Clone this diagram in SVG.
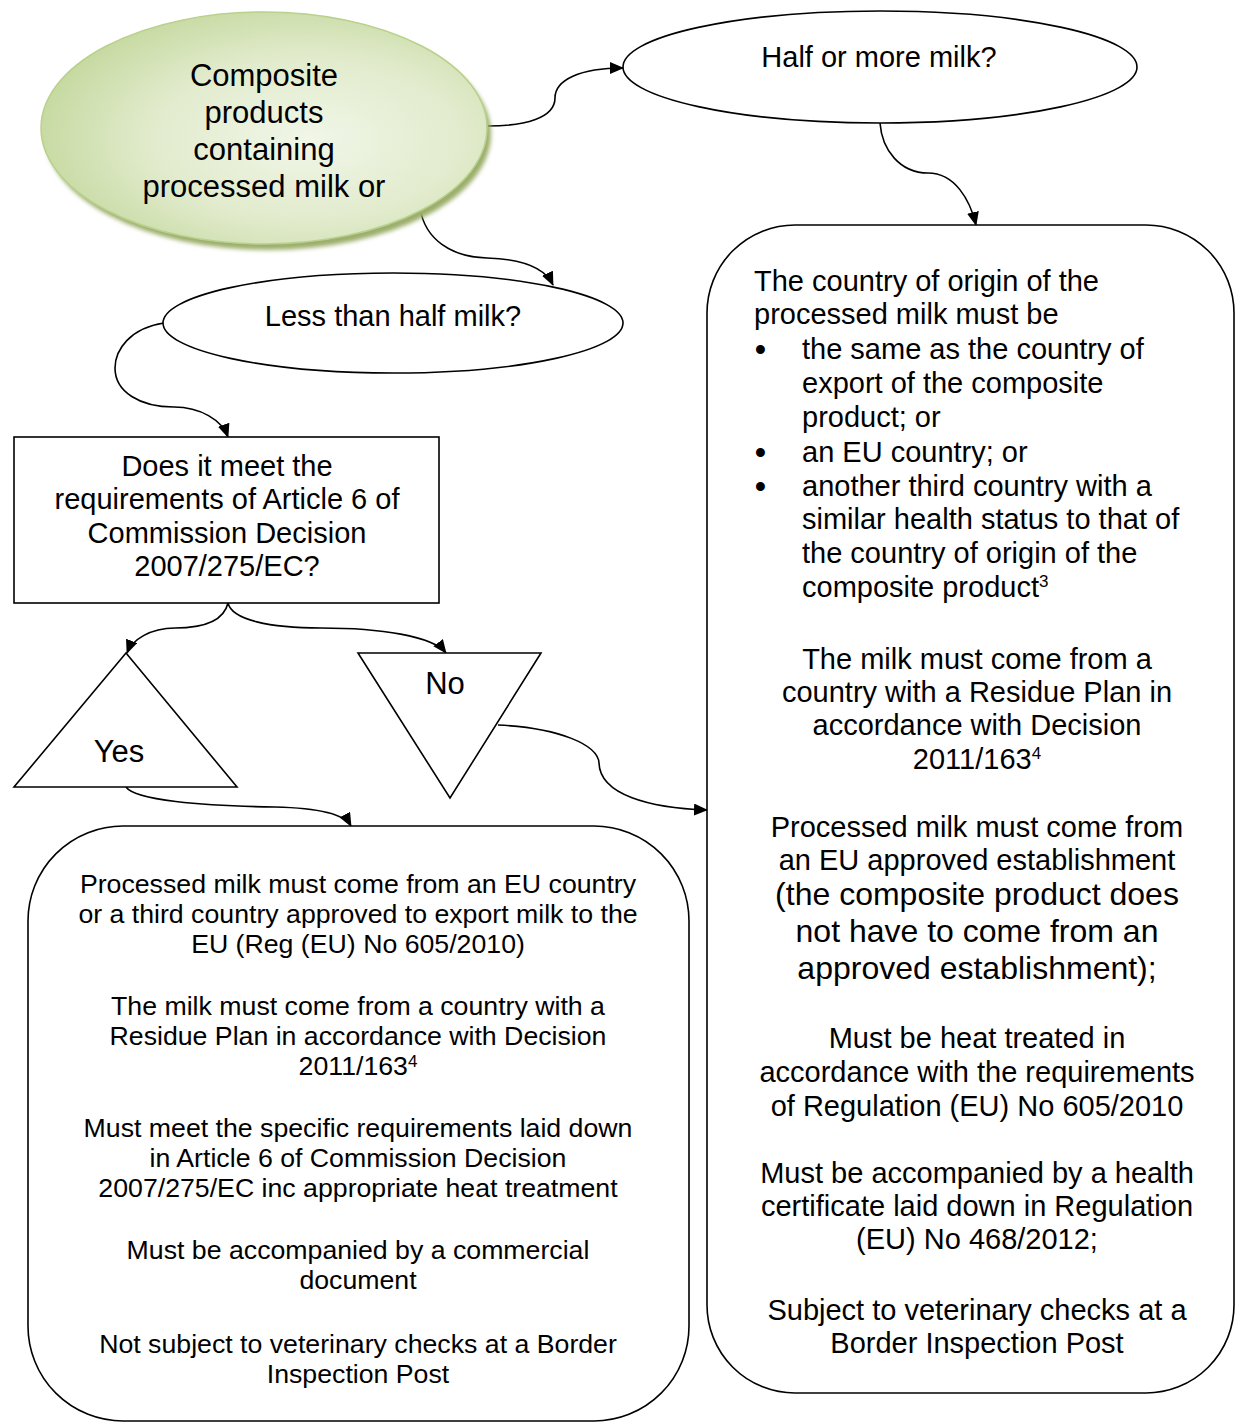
<svg xmlns="http://www.w3.org/2000/svg" width="1251" height="1422" viewBox="0 0 1251 1422">
<style>
text{font-family:"Liberation Sans",Arial,sans-serif;fill:#000}
.c{text-anchor:middle}
.shape{fill:#fff;stroke:#000;stroke-width:1.6}
.conn{fill:none;stroke:#000;stroke-width:1.6;marker-end:url(#arr)}
.f31{font-size:31px}.f29{font-size:29px}.f27{font-size:26.7px}.f32{font-size:32px}
.sup{font-size:17px}
.bul{font-size:31px;font-weight:bold}
</style>
<defs>
<marker id="arr" viewBox="0 0 14 12" refX="13" refY="6" markerWidth="14" markerHeight="12" markerUnits="userSpaceOnUse" orient="auto">
<path d="M0,0 L14,6 L0,12 Z" fill="#000"/>
</marker>
<radialGradient id="g" cx="0.6" cy="0.55" r="0.65">
<stop offset="0" stop-color="#f1f6e8"/>
<stop offset="0.55" stop-color="#e1ebcc"/>
<stop offset="1" stop-color="#c3d79b"/>
</radialGradient>
<filter id="blur" x="-10%" y="-10%" width="120%" height="120%"><feGaussianBlur stdDeviation="2"/></filter>
</defs>

<g id="connectors">
<path class="conn" d="M488,126 C525,126 555,118 555,98 C555,80 580,68 623,68"/>
<path class="conn" d="M420,208 C425,240 452,257 487,258 C522,259 545,268 553,285"/>
<path class="conn" d="M880,123 C882,150 900,173 928,173 C955,173 970,200 976,225"/>
<path class="conn" d="M164,323 C130,328 115,350 115,368 C115,392 140,407 174,407 C200,407 222,420 228,437"/>
<path class="conn" d="M228,603 C224,620 205,628 175,628 C150,628 132,640 127,653"/>
<path class="conn" d="M228,603 C232,620 270,628 321,628 C380,628 433,636 446,653"/>
<path class="conn" d="M498,725 C560,728 598,745 599,763 C600,795 650,808 707,810"/>
<path class="conn" d="M126,787 C135,800 200,806 275,807 C320,808 345,815 351,826"/>
</g>

<g id="start">
<ellipse cx="268" cy="134" rx="223" ry="116" fill="#9cae6c" filter="url(#blur)"/>
<ellipse cx="264" cy="128" rx="223" ry="116" fill="url(#g)" stroke="#b9d18c" stroke-width="1.5"/>
<text class="c f31" x="264" y="86">Composite</text>
<text class="c f31" x="264" y="123">products</text>
<text class="c f31" x="264" y="160">containing</text>
<text class="c f31" x="264" y="197">processed milk or</text>
</g>

<g id="half">
<ellipse class="shape" cx="880" cy="67" rx="257" ry="56"/>
<text class="c f29" x="879" y="67">Half or more milk?</text>
</g>

<g id="less">
<ellipse class="shape" cx="393" cy="323" rx="230" ry="50"/>
<text class="c f29" x="393" y="326">Less than half milk?</text>
</g>

<g id="question">
<rect class="shape" x="14" y="437" width="425" height="166"/>
<text class="c f29" x="227" y="476">Does it meet the</text>
<text class="c f29" x="227" y="509">requirements of Article 6 of</text>
<text class="c f29" x="227" y="543">Commission Decision</text>
<text class="c f29" x="227" y="576">2007/275/EC?</text>
</g>

<g id="yes">
<polygon class="shape" points="126,653 14,787 237,787"/>
<text class="c f31" x="119" y="762">Yes</text>
</g>

<g id="no">
<polygon class="shape" points="358,653 541,653 450,798"/>
<text class="c f31" x="445" y="694">No</text>
</g>

<g id="result-less">
<rect class="shape" x="28" y="826" width="661" height="595" rx="95" ry="95"/>
<text class="c f27" x="358" y="893">Processed milk must come from an EU country</text>
<text class="c f27" x="358" y="923">or a third country approved to export milk to the</text>
<text class="c f27" x="358" y="953">EU (Reg (EU) No 605/2010)</text>
<text class="c f27" x="358" y="1015">The milk must come from a country with a</text>
<text class="c f27" x="358" y="1045">Residue Plan in accordance with Decision</text>
<text class="c f27" x="358" y="1075">2011/163<tspan class="sup" dy="-8">4</tspan></text>
<text class="c f27" x="358" y="1137">Must meet the specific requirements laid down</text>
<text class="c f27" x="358" y="1167">in Article 6 of Commission Decision</text>
<text class="c f27" x="358" y="1197">2007/275/EC inc appropriate heat treatment</text>
<text class="c f27" x="358" y="1259">Must be accompanied by a commercial</text>
<text class="c f27" x="358" y="1289">document</text>
<text class="c f27" x="358" y="1353">Not subject to veterinary checks at a Border</text>
<text class="c f27" x="358" y="1383">Inspection Post</text>
</g>

<g id="result-half">
<rect class="shape" x="707" y="225" width="527" height="1168" rx="88" ry="88"/>
<text class="f29" x="754" y="291">The country of origin of the</text>
<text class="f29" x="754" y="324">processed milk must be</text>
<text class="bul" x="755" y="360">•</text>
<text class="f29" x="802" y="359">the same as the country of</text>
<text class="f29" x="802" y="393">export of the composite</text>
<text class="f29" x="802" y="427">product; or</text>
<text class="bul" x="755" y="463">•</text>
<text class="f29" x="802" y="462">an EU country; or</text>
<text class="bul" x="755" y="497">•</text>
<text class="f29" x="802" y="496">another third country with a</text>
<text class="f29" x="802" y="529">similar health status to that of</text>
<text class="f29" x="802" y="563">the country of origin of the</text>
<text class="f29" x="802" y="597">composite product<tspan class="sup" dy="-10">3</tspan></text>
<text class="c f29" x="977" y="669">The milk must come from a</text>
<text class="c f29" x="977" y="702">country with a Residue Plan in</text>
<text class="c f29" x="977" y="735">accordance with Decision</text>
<text class="c f29" x="977" y="769">2011/163<tspan class="sup" dy="-10">4</tspan></text>
<text class="c f29" x="977" y="837">Processed milk must come from</text>
<text class="c f29" x="977" y="870">an EU approved establishment</text>
<text class="c f32" x="977" y="905">(the composite product does</text>
<text class="c f32" x="977" y="942">not have to come from an</text>
<text class="c f32" x="977" y="979">approved establishment);</text>
<text class="c f29" x="977" y="1048">Must be heat treated in</text>
<text class="c f29" x="977" y="1082">accordance with the requirements</text>
<text class="c f29" x="977" y="1116">of Regulation (EU) No 605/2010</text>
<text class="c f29" x="977" y="1183">Must be accompanied by a health</text>
<text class="c f29" x="977" y="1216">certificate laid down in Regulation</text>
<text class="c f29" x="977" y="1249">(EU) No 468/2012;</text>
<text class="c f29" x="977" y="1320">Subject to veterinary checks at a</text>
<text class="c f29" x="977" y="1353">Border Inspection Post</text>
</g>
</svg>
